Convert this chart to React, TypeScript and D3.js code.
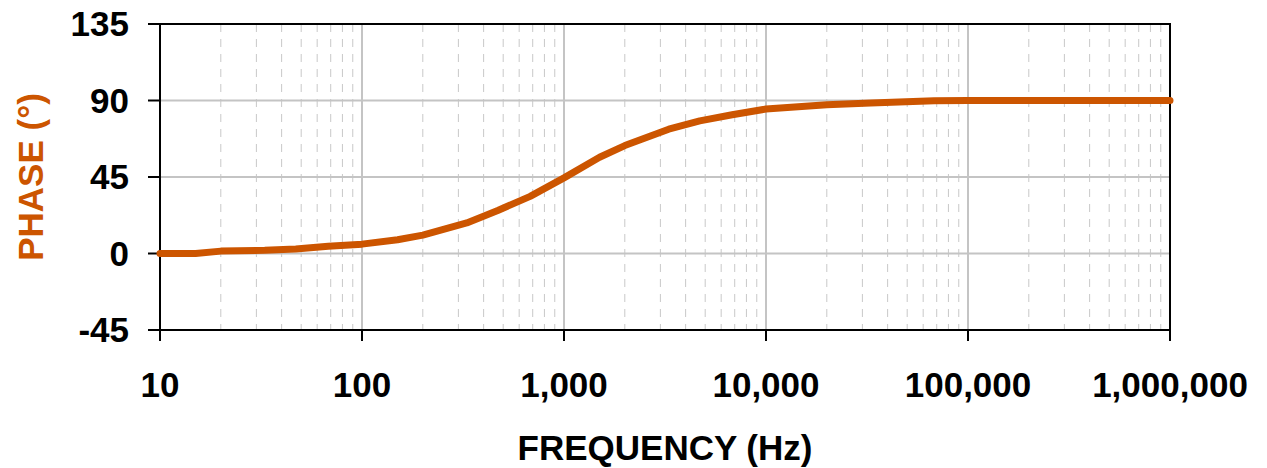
import React from "react";
import * as d3 from "d3";

const frequencies = [10, 15, 20, 33, 47, 68, 100, 150, 200, 330, 470, 680, 1000, 1500, 2000, 3300, 4700, 6800, 10000, 20000, 33000, 68000, 100000, 200000, 330000, 680000, 1000000];
const phases = [0, 0, 1.4, 1.9, 2.7, 4.2, 5.5, 8.1, 10.8, 18.0, 25.3, 33.6, 44.5, 56.6, 63.5, 73.1, 78.0, 81.6, 85.0, 87.5, 88.6, 89.9, 90, 90, 90, 90, 90];
const yTicks = [-45, 0, 45, 90, 135];
const xTicks = [10, 100, 1000, 10000, 100000, 1000000];
const xTickLabels = ["10", "100", "1,000", "10,000", "100,000", "1,000,000"];
const xTitle = "FREQUENCY (Hz)";
const yTitle = "PHASE (°)";

const W = 1267, H = 468;
const M = { left: 160, right: 1170, top: 24, bottom: 330 };
const ORANGE = "#CC5500";
const FONT = "'Liberation Sans', Arial, sans-serif";

export default function App() {
  const x = d3.scaleLog().domain([10, 1000000]).range([M.left, M.right]);
  const y = d3.scaleLinear().domain([-45, 135]).range([M.bottom, M.top]);

  const minor: number[] = [];
  for (let d = 10; d < 1000000; d *= 10) {
    for (let k = 2; k <= 9; k++) minor.push(d * k);
  }

  const data = frequencies.map((f, i) => [f, phases[i]] as [number, number]);
  const line = d3.line<[number, number]>().x((d) => x(d[0])).y((d) => y(d[1]));

  return (
    <svg width={W} height={H} style={{ position: "absolute", left: 0, top: 0, background: "#fff" }}>
      {minor.map((f) => (
        <line key={"m" + f} x1={x(f)} x2={x(f)} y1={M.top} y2={M.bottom}
          stroke="#c8c8c8" strokeWidth={1} strokeDasharray="8,7" />
      ))}
      {yTicks.map((t) => (
        <line key={"h" + t} x1={M.left} x2={M.right} y1={y(t)} y2={y(t)} stroke="#c4c4c4" strokeWidth={2} />
      ))}
      {xTicks.map((t) => (
        <line key={"v" + t} x1={x(t)} x2={x(t)} y1={M.top} y2={M.bottom} stroke="#c4c4c4" strokeWidth={2} />
      ))}
      <rect x={M.left} y={M.top} width={M.right - M.left} height={M.bottom - M.top} fill="none" stroke="#000" strokeWidth={2} />
      {yTicks.map((t) => (
        <g key={"yt" + t}>
          <line x1={M.left - 12} x2={M.left} y1={y(t)} y2={y(t)} stroke="#000" strokeWidth={2} />
          <text x={129} y={y(t)} dy="0.35em" textAnchor="end" fontFamily={FONT} fontWeight="bold" fontSize={35} fill="#000">{t}</text>
        </g>
      ))}
      {xTicks.map((t, i) => (
        <g key={"xt" + t}>
          <line x1={x(t)} x2={x(t)} y1={M.bottom} y2={M.bottom + 11} stroke="#000" strokeWidth={2} />
          <text x={x(t)} y={397} textAnchor="middle" fontFamily={FONT} fontWeight="bold" fontSize={35} fill="#000">{xTickLabels[i]}</text>
        </g>
      ))}
      <path d={line(data) || ""} fill="none" stroke={ORANGE} strokeWidth={7} strokeLinecap="round" strokeLinejoin="round" />
      <text x={(M.left + M.right) / 2} y={460} textAnchor="middle" fontFamily={FONT} fontWeight="bold" fontSize={35} fill="#000">{xTitle}</text>
      <text transform={`translate(43,${(M.top + M.bottom) / 2}) rotate(-90)`} textAnchor="middle" fontFamily={FONT} fontWeight="bold" fontSize={35} fill={ORANGE}>{yTitle}</text>
    </svg>
  );
}
